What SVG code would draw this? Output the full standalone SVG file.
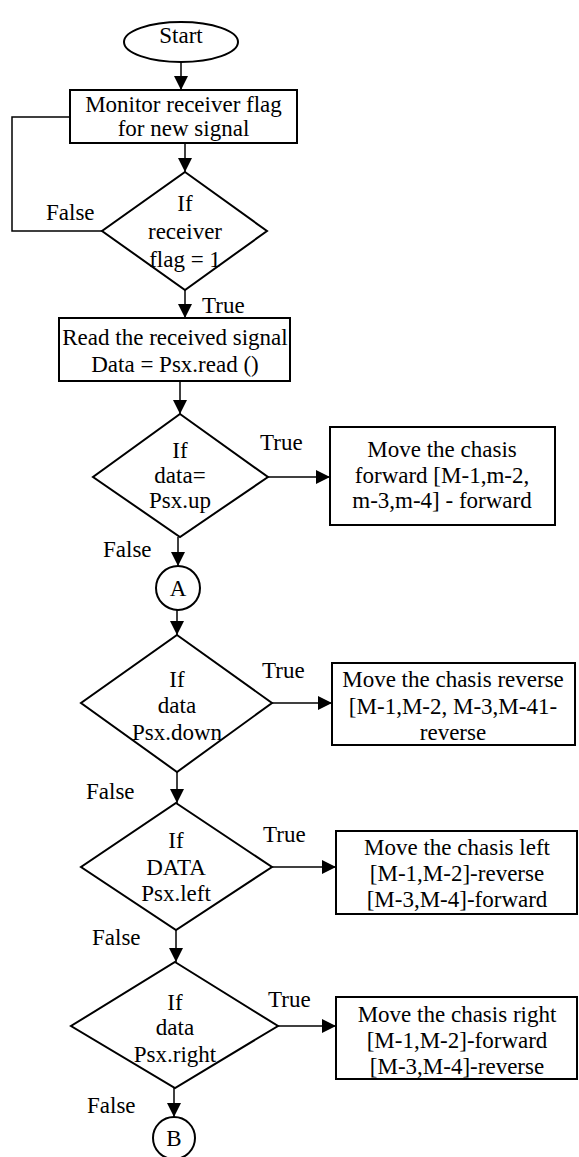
<svg xmlns="http://www.w3.org/2000/svg" width="579" height="1157" viewBox="0 0 579 1157">
<style>
.s{fill:#fff;stroke:#000;stroke-width:2}
.c{fill:none;stroke:#000;stroke-width:1.5}
text{font-family:"Liberation Serif","Times New Roman",serif;font-size:23px;fill:#000}
.m{text-anchor:middle}
</style>
<defs>
<marker id="ah" markerUnits="userSpaceOnUse" markerWidth="14" markerHeight="14" refX="14" refY="7" orient="auto">
<path d="M0,0 L14,7 L0,14 z" fill="#000"/>
</marker>
</defs>
<rect width="579" height="1157" fill="#fff"/>
<g id="connectors">
<line class="c" x1="181" y1="62" x2="181" y2="90" marker-end="url(#ah)"/>
<line class="c" x1="185" y1="143" x2="185" y2="172" marker-end="url(#ah)"/>
<polyline class="c" points="102,231 12,231 12,117 70,117"/>
<line class="c" x1="185" y1="290" x2="185" y2="318" marker-end="url(#ah)"/>
<line class="c" x1="180" y1="381" x2="180" y2="414" marker-end="url(#ah)"/>
<line class="c" x1="268" y1="477" x2="330" y2="477" marker-end="url(#ah)"/>
<line class="c" x1="178" y1="537" x2="178" y2="566" marker-end="url(#ah)"/>
<line class="c" x1="177" y1="610" x2="177" y2="635" marker-end="url(#ah)"/>
<line class="c" x1="272" y1="703" x2="332" y2="703" marker-end="url(#ah)"/>
<line class="c" x1="177" y1="772" x2="177" y2="803" marker-end="url(#ah)"/>
<line class="c" x1="272" y1="867" x2="336" y2="867" marker-end="url(#ah)"/>
<line class="c" x1="176" y1="930" x2="176" y2="962" marker-end="url(#ah)"/>
<line class="c" x1="278" y1="1026" x2="336" y2="1026" marker-end="url(#ah)"/>
<line class="c" x1="174" y1="1088" x2="174" y2="1117" marker-end="url(#ah)"/>
<text x="46" y="220">False</text>
<text x="202" y="313">True</text>
<text x="260" y="450">True</text>
<text x="103" y="557">False</text>
<text x="262" y="678">True</text>
<text x="86" y="799">False</text>
<text x="263" y="842">True</text>
<text x="92" y="945">False</text>
<text x="268" y="1007">True</text>
<text x="87" y="1113">False</text>
</g>
<g id="start">
<ellipse class="s" cx="181" cy="42" rx="57" ry="20"/>
<text class="m" x="181" y="43">Start</text>
</g>
<g id="monitor">
<rect class="s" x="70" y="90" width="227" height="53"/>
<text class="m" x="183.5" y="112">Monitor receiver flag</text>
<text class="m" x="183.5" y="136">for new signal</text>
</g>
<g id="if-flag">
<polygon class="s" points="185,172 267,231 185,290 102,231"/>
<text class="m" x="185" y="211">If</text>
<text class="m" x="185" y="239">receiver</text>
<text class="m" x="185" y="267">flag = 1</text>
</g>
<g id="read">
<rect class="s" x="59" y="318" width="231" height="63"/>
<text class="m" x="175" y="345">Read the received signal</text>
<text class="m" x="175" y="372">Data = Psx.read ()</text>
</g>
<g id="if-up">
<polygon class="s" points="180,414 268,477 180,537 93,477"/>
<text class="m" x="180" y="458">If</text>
<text class="m" x="180" y="483">data=</text>
<text class="m" x="180" y="508">Psx.up</text>
</g>
<g id="forward">
<rect class="s" x="330" y="427" width="225" height="98"/>
<text class="m" x="442" y="457">Move the chasis</text>
<text class="m" x="442" y="483">forward [M-1,m-2,</text>
<text class="m" x="442" y="508">m-3,m-4] - forward</text>
</g>
<g id="conn-a">
<circle class="s" cx="178" cy="588" r="22"/>
<text class="m" x="178" y="596">A</text>
</g>
<g id="if-down">
<polygon class="s" points="177,635 272,703 177,772 81,703"/>
<text class="m" x="177" y="687">If</text>
<text class="m" x="177" y="713">data</text>
<text class="m" x="177" y="740">Psx.down</text>
</g>
<g id="reverse">
<rect class="s" x="332" y="663" width="243" height="82"/>
<text class="m" x="453" y="687">Move the chasis reverse</text>
<text class="m" x="453" y="714">[M-1,M-2, M-3,M-41-</text>
<text class="m" x="453" y="740">reverse</text>
</g>
<g id="if-left">
<polygon class="s" points="176,803 272,867 176,930 81,867"/>
<text class="m" x="176" y="848">If</text>
<text class="m" x="176" y="875">DATA</text>
<text class="m" x="176" y="901">Psx.left</text>
</g>
<g id="left">
<rect class="s" x="336" y="831" width="241" height="83"/>
<text class="m" x="457" y="855">Move the chasis left</text>
<text class="m" x="457" y="881">[M-1,M-2]-reverse</text>
<text class="m" x="457" y="907">[M-3,M-4]-forward</text>
</g>
<g id="if-right">
<polygon class="s" points="175,962 278,1026 175,1088 71,1026"/>
<text class="m" x="175" y="1010">If</text>
<text class="m" x="175" y="1035">data</text>
<text class="m" x="175" y="1062">Psx.right</text>
</g>
<g id="right">
<rect class="s" x="336" y="997" width="241" height="82"/>
<text class="m" x="457" y="1022">Move the chasis right</text>
<text class="m" x="457" y="1048">[M-1,M-2]-forward</text>
<text class="m" x="457" y="1074">[M-3,M-4]-reverse</text>
</g>
<g id="conn-b">
<circle class="s" cx="174" cy="1138" r="21"/>
<text class="m" x="174" y="1146">B</text>
</g>
</svg>
